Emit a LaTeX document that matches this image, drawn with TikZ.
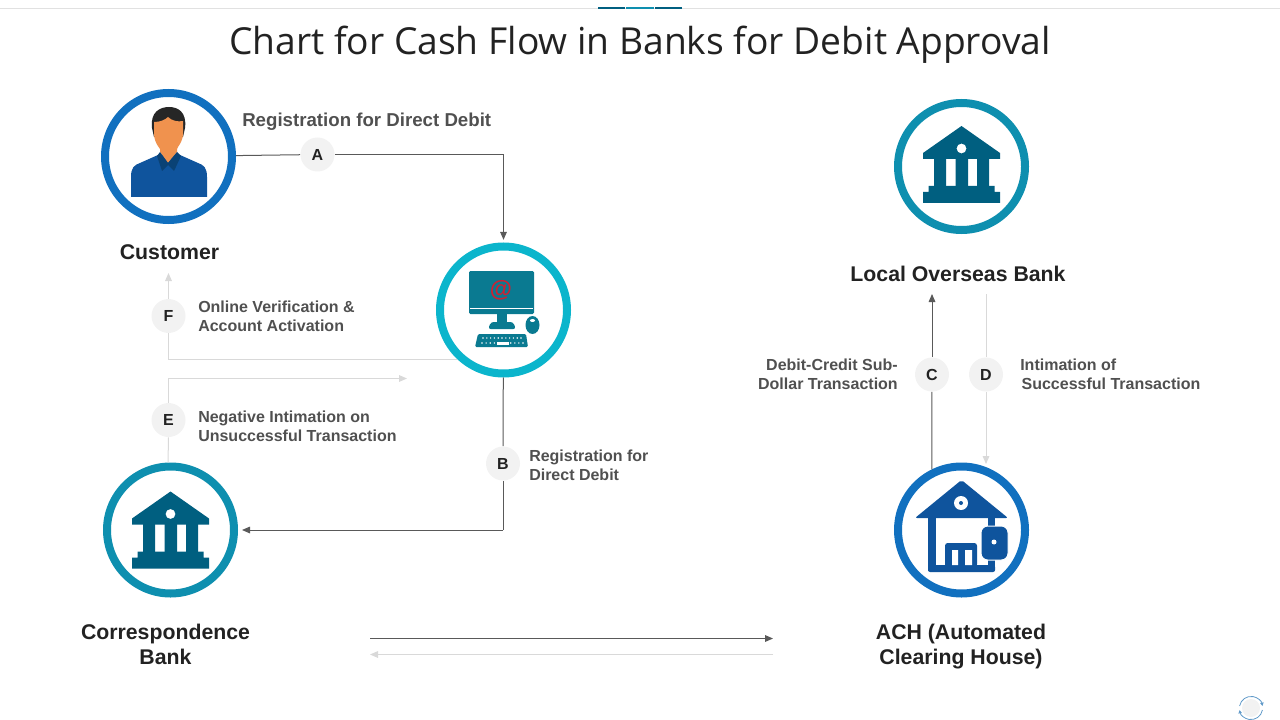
\documentclass[tikz,border=0pt]{standalone}
\usepackage{fontspec}
\setmainfont{Liberation Sans}
\newfontfamily\titlefont{Open Sans}
\usetikzlibrary{arrows.meta}

\definecolor{ringblue}{HTML}{1170BF}
\definecolor{ringteal}{HTML}{0E8FAF}
\definecolor{ringcyan}{HTML}{0BB5CC}
\definecolor{iconbank}{HTML}{005F80}
\definecolor{iconpc}{HTML}{0A7A91}
\definecolor{iconach}{HTML}{0F549D}
\definecolor{skintone}{HTML}{F0924E}
\definecolor{collardark}{HTML}{0A4275}
\definecolor{atred}{HTML}{CC2233}
\definecolor{linedark}{HTML}{595959}
\definecolor{linelight}{HTML}{D9D9D9}
\definecolor{textgray}{HTML}{505050}
\definecolor{textdark}{HTML}{222222}
\definecolor{badgefill}{HTML}{F2F2F2}

\tikzset{
    ring/.style={draw=#1, circle, line width=6pt, fill=white, minimum size=95.25pt, inner sep=0pt},
    badge/.style={circle, fill=badgefill, minimum size=25.5pt, inner sep=0pt, font=\fontsize{12}{12}\selectfont\bfseries, text=textdark},
    head/.style={font=\fontsize{15.95}{18.75}\selectfont\bfseries, text=textdark, align=center},
    note/.style={font=\fontsize{12}{14.2}\selectfont\bfseries, text=textgray, align=left, inner sep=0pt},
    flowdark/.style={draw=linedark, line width=0.75pt},
    flowlight/.style={draw=linelight, line width=0.75pt},
    tipped/.style={-{Triangle[length=6pt,width=5pt]}},
    bankicon/.pic={
        \fill[iconbank,even odd rule] (0,-40.5) -- (38.5,-13.5) -- (38.5,-7.5) -- (-38.5,-7.5) -- (-38.5,-13.5) -- cycle
            (0,-18) circle (5);
        \fill[iconbank] (-27.5,-8) rectangle (-15.5,20) (-6,-8) rectangle (6.5,20) (15.5,-8) rectangle (27.5,20);
        \fill[iconbank] (-33,19.5) rectangle (33,26) (-38.5,25.5) rectangle (38.5,36.5);
    }
}

\begin{document}
\begin{tikzpicture}[x=0.75pt,y=-0.75pt]
\useasboundingbox (0,0) rectangle (1280,720);

% top rule
\coordinate (ruleleft) at (0,8.5);
\coordinate (ruleright) at (1280,8.5);
\draw[linelight!80!white,line width=0.75pt] (ruleleft) -- (ruleright);
\fill[iconbank] (598,7) rectangle (625,9);
\fill[ringteal] (626,7) rectangle (654,9);
\fill[iconbank] (655,7) rectangle (682,9);

\node [font=\titlefont\fontsize{27.9}{28}\selectfont, text=textdark] (title) at (640,45) {Chart for Cash Flow in Banks for Debit Approval};

% circles
\node [ring=ringblue] (customer) at (168.5,156.5) {};
\node [ring=ringcyan] (computer) at (503.5,310) {};
\node [ring=ringteal] (localbank) at (961.5,166.5) {};
\node [ring=ringteal] (corrbank) at (170.5,530) {};
\node [ring=ringblue] (ach) at (961.5,530) {};

% badges
\node [badge] (badgeA) at (317.5,154.5) {A};
\node [badge] (badgeB) at (503,463.5) {B};
\node [badge] (badgeC) at (932,374.5) {C};
\node [badge] (badgeD) at (986,374.5) {D};
\node [badge] (badgeE) at (168.5,420) {E};
\node [badge] (badgeF) at (168.5,316) {F};

% free ends
\coordinate (cornerB) at (503,530);
\coordinate (endC) at (932,294);
\coordinate (startD) at (986,294);
\coordinate (endD) at (986,464);
\coordinate (endF) at (168.5,273);
\coordinate (endE) at (407,378.5);
\coordinate (toprightstart) at (370,638.5);
\coordinate (toprightend) at (773,638.5);
\coordinate (backstart) at (773,654.5);
\coordinate (backend) at (370,654.5);

% connectors
\draw[flowdark] (customer) -- (badgeA);
\draw[flowdark,tipped,shorten >=2pt] (badgeA) -| (computer);
\draw[flowdark] (computer) -- (badgeB);
\draw[flowdark] (badgeB) -- (cornerB);
\draw[flowdark,tipped,shorten >=3pt] (cornerB) -- (corrbank);
\draw[flowlight] (computer.227) -| (badgeF);
\draw[flowlight,tipped] (badgeF) -- (endF);
\draw[flowlight] (corrbank.92) -- (badgeE);
\draw[flowlight,tipped] (badgeE) |- (endE);
\draw[flowdark] (ach.116) -- (badgeC);
\draw[flowdark,tipped] (badgeC) -- (endC);
\draw[flowlight] (startD) -- (badgeD);
\draw[flowlight,tipped] (badgeD) -- (endD);
\draw[flowdark,tipped] (toprightstart) -- (toprightend);
\draw[flowlight,tipped] (backstart) -- (backend);

% labels
\node [head] (customerlabel) at (169.5,252.5) {Customer};
\node [head] (localbanklabel) at (958,273.5) {Local Overseas Bank};
\node [head] (corrbanklabel) at (165.5,644) {Correspondence\\Bank};
\node [head] (achlabel) at (961,647) {ACH (Automated\\Clearing House)};
\node [note, font=\fontsize{14}{16}\selectfont\bfseries, anchor=west] (noteA) at (242,121.5) {Registration for Direct Debit};
\node [note, anchor=west] (noteF) at (198,316.7) {Online Verification \&\\Account Activation};
\node [note, anchor=west] (noteE) at (198,426.7) {Negative Intimation on\\Unsuccessful Transaction};
\node [note, anchor=west] (noteB) at (529,465.7) {Registration for\\Direct Debit};
\node [note, anchor=east, align=right] (noteC) at (898,374.7) {Debit-Credit Sub-\\Dollar Transaction};
\node [note, anchor=west] (noteD) at (1020,374.7) {Intimation of\\\hspace*{1pt}Successful Transaction};

% customer icon
\fill[iconach] (131,197) -- (131,177) .. controls (131,168) and (134,165) .. (140,163) -- (158,155) -- (180,155) -- (198,163) .. controls (204,165) and (207,168) .. (207,177) -- (207,197) -- cycle;
\fill[black!85] (152,128) .. controls (150,112) and (160,107) .. (169,107) .. controls (178,107) and (187,112) .. (185,128) -- (183,137) -- (154,137) -- cycle;
\fill[skintone] (154,122) .. controls (160,122) and (165,120) .. (168,117) .. controls (172,121) and (178,122) .. (183,121) -- (183,135) .. controls (182,143) and (178,146) .. (177,149) -- (177,152) -- (168,163) -- (160,152) -- (160,149) .. controls (158,146) and (155,143) .. (154,135) -- cycle;
\fill[collardark] (160,152) -- (168,163) -- (177,152) -- (181,156) -- (174,171) -- (168,165) -- (162,171) -- (157,156) -- cycle;

% computer icon
\fill[iconpc, rounded corners=1pt] (469,271) rectangle (534,314);
\fill[white] (470,308) rectangle (533,309);
\node [font=\fontsize{17}{17}\selectfont\bfseries, text=atred] (atsign) at (501,290) {@};
\fill[iconpc] (497,314) rectangle (507,323);
\fill[iconpc, rounded corners=2pt] (488,329) -- (491,322) -- (513,322) -- (516,329) -- cycle;
\fill[iconpc] (532.5,325) ellipse (7 and 9);
\fill[white] (532.5,320.5) ellipse (2.5 and 1.5);
\fill[iconpc, rounded corners=1pt] (478,334) -- (526,334) -- (528,347) -- (475,347) -- cycle;
\foreach \Col in {0,...,10}{
    \fill[white] (483+\Col*3.8,338) circle (0.8);
    \fill[white] (482+\Col*4.1,343) circle (0.8);
}
\fill[white] (497,342) rectangle (509,344.5);

% bank icons
\pic at (localbank) {bankicon};
\pic at ([yshift=-1.5pt]corrbank) {bankicon};

% ach icon
\fill[iconach, rounded corners=1.5pt] (961.5,480) -- (1008,518) -- (915,518) -- cycle;
\fill[white] (961,503) circle (7);
\fill[iconach] (961,503) circle (2);
\fill[iconach] (928,517) rectangle (936,571);
\fill[iconach] (988,517) rectangle (995,571);
\fill[iconach, rounded corners=1.5pt] (928,565) rectangle (995,572);
\fill[iconach, rounded corners=2pt] (945,567) -- (945,543) -- (977,543) -- (977,567) -- cycle;
\fill[white] (952,550) rectangle (958,565) (965,550) rectangle (972,565);
\fill[iconach, draw=white, line width=0.75pt, rounded corners=5pt] (981,526) rectangle (1008,560);
\fill[white] (994,542) circle (2.5);

% reload mark
\coordinate (reload) at (1251,708);
\fill[badgefill] (reload) circle (9);
\draw[ringblue!60!linelight, line width=0.6pt, -{Triangle[length=2.5pt,width=2.5pt]}] (1239.6,706) arc[start angle=-170, end angle=-10, radius=11.6];
\draw[ringblue!60!linelight, line width=0.6pt, -{Triangle[length=2.5pt,width=2.5pt]}] (1262.4,710) arc[start angle=10, end angle=170, radius=11.6];

\end{tikzpicture}
\end{document}
